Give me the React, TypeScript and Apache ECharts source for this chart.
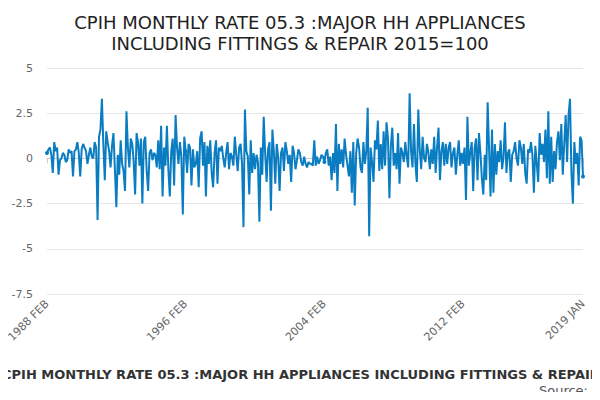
import React, { useEffect, useRef } from "react";
import * as echarts from "echarts";

const values: number[] = [
  0.3,0.5,0.6,0.2,-0.8,0.9,0.4,0.6,-0.9,-0.1,0.0,0.3,
  0.2,-0.2,-0.1,0.5,0.3,0.4,-1.0,0.4,0.5,0.9,0.3,-1.0,
  0.5,0.8,0.6,0.4,-0.3,0.2,0.6,0.1,0.0,0.9,0.6,-3.4,
  1.2,1.6,3.3,0.8,-1.2,1.5,0.9,0.4,-0.5,0.7,1.4,-0.6,
  -2.7,0.2,-0.9,1.0,-0.3,-0.7,-1.8,2.6,0.6,-0.5,1.1,0.8,
  -0.2,-2.0,1.4,0.9,-0.4,1.1,-2.5,0.9,1.2,-0.7,-1.8,0.3,
  0.5,-0.1,0.3,0.2,-0.5,1.0,-0.6,1.8,-2.1,0.6,-0.4,1.8,
  -0.6,-2.1,0.4,1.1,-1.5,2.4,0.6,-0.3,0.9,0.1,-3.1,1.2,
  0.4,-0.8,0.8,0.6,-1.5,0.5,-0.5,-0.3,0.4,-1.6,1.1,1.5,
  -0.4,0.9,-2.1,0.7,-0.3,1.0,-0.8,-1.6,0.3,1.0,-1.4,0.6,
  0.4,0.7,0.0,-0.5,0.3,0.9,-0.6,0.3,0.1,-0.4,1.2,0.2,
  -0.7,0.6,0.8,-0.3,-3.8,2.7,0.4,0.1,-2.0,1.0,-0.8,0.3,
  -0.6,0.2,-0.2,-3.5,0.6,-0.9,2.3,0.3,-1.3,0.5,0.9,-2.9,
  1.6,0.4,-1.4,0.8,0.1,-1.8,0.3,0.6,-0.7,0.9,0.4,-0.3,
  0.2,-1.3,0.7,0.3,-0.6,-0.1,0.5,0.3,-0.2,-0.4,0.1,-0.3,
  -0.5,-0.2,-0.3,-0.3,-0.4,1.0,-0.4,0.1,-0.3,-0.1,0.2,0.1,
  -0.2,0.3,0.5,-0.4,0.1,-1.2,0.3,-0.8,1.9,-1.8,0.8,-0.3,
  0.5,-0.5,1.1,0.2,-0.4,-1.0,0.4,-1.9,0.9,-2.6,0.3,1.1,
  0.6,-0.5,-0.8,0.9,-0.3,0.4,2.8,-4.3,0.6,-0.2,-1.3,1.0,
  0.5,2.1,-0.7,0.8,-0.6,1.5,-0.4,2.0,1.1,-2.2,0.7,1.7,
  -0.4,0.3,-0.6,1.4,-1.4,0.6,0.3,-0.2,0.9,0.1,-0.5,3.6,
  0.4,-0.5,1.9,-0.3,-1.3,2.7,0.5,-0.6,1.2,0.0,-0.2,0.8,
  0.3,-0.6,0.5,-0.3,1.2,-0.8,0.6,1.7,-1.2,0.4,0.9,-0.4,
  0.8,-0.3,0.6,0.9,-0.5,0.3,0.6,-0.9,0.2,1.0,-0.4,0.3,
  -0.2,0.6,-2.3,2.3,-0.4,0.3,0.9,-1.8,0.6,1.1,-1.2,1.4,
  0.3,-1.1,-2.0,0.2,-1.2,3.1,0.5,-2.1,1.6,-1.9,0.8,-0.9,
  0.4,-0.2,1.0,-0.6,0.1,2.0,-0.8,0.3,0.5,-1.3,0.2,0.4,
  0.9,0.0,-0.4,1.0,0.6,-0.3,0.8,-0.8,-1.4,0.5,0.3,0.9,
  0.2,-1.9,0.7,-0.3,-1.3,1.4,0.2,0.8,-0.2,1.6,-1.1,2.6,
  -1.4,1.2,-1.3,0.4,-0.6,0.9,1.5,-0.1,1.9,-0.9,0.8,2.4,
  -0.2,2.4,3.3,-0.8,-2.5,0.9,-0.3,0.3,-1.5,1.2,1.0,-1.0,
];

const monthNames = ["JAN","FEB","MAR","APR","MAY","JUN","JUL","AUG","SEP","OCT","NOV","DEC"];
const categories: string[] = values.map((_, i) => {
  const m = 1 + i;
  return `${1988 + Math.floor(m / 12)} ${monthNames[m % 12]}`;
});
const yTicks = { min: -7.5, max: 5, interval: 2.5 };
const titleText = "CPIH MONTHLY RATE 05.3 :MAJOR HH APPLIANCES\nINCLUDING FITTINGS & REPAIR 2015=100";
const seriesName = "CPIH MONTHLY RATE 05.3 :MAJOR HH APPLIANCES INCLUDING FITTINGS & REPAIR 2015=100";

export default function App() {
  const ref = useRef<HTMLDivElement>(null);
  useEffect(() => {
    const chart = echarts.init(ref.current!, null, { renderer: "svg" });
    const last = categories.length - 1;
    chart.setOption({
      animation: false,
      title: {
        text: titleText, left: "center", top: 7,
        textStyle: { fontFamily: "DejaVu Sans", fontSize: 18, fontWeight: "normal", color: "#222", lineHeight: 21 },
      },
      grid: { left: 47, right: 17, top: 68, bottom: 106 },
      xAxis: {
        type: "category", data: categories, boundaryGap: false,
        axisLine: { lineStyle: { color: "#ccc" } },
        axisTick: { show: true, interval: (i: number) => i % 96 === 0 || i === last, lineStyle: { color: "#ccc" } },
        axisLabel: {
          interval: (i: number) => i % 96 === 0 || i === last,
          rotate: 45, color: "#666", fontFamily: "DejaVu Sans", fontSize: 11,
        },
      },
      yAxis: {
        type: "value", ...yTicks,
        axisLine: { show: false }, axisTick: { show: false },
        splitLine: { lineStyle: { color: "#e6e6e6" } },
        axisLabel: { color: "#666", fontFamily: "DejaVu Sans", fontSize: 11, margin: 14 },
      },
      series: [{
        type: "line", name: seriesName, data: values,
        lineStyle: { color: "#0a7dc2", width: 2 },
        itemStyle: { color: "#0a7dc2" },
        symbol: "circle", symbolSize: 4,
      }],
      graphic: [
        { type: "text", left: 2, top: 368, style: { text: seriesName, font: "bold 13px DejaVu Sans", fill: "#333" } },
        { type: "text", right: 12, top: 384, style: { text: "Source:", font: "13px DejaVu Sans", fill: "#555" } },
      ],
    });
    return () => chart.dispose();
  }, []);
  return <div ref={ref} style={{ width: 600, height: 400, margin: -8 }} />;
}
